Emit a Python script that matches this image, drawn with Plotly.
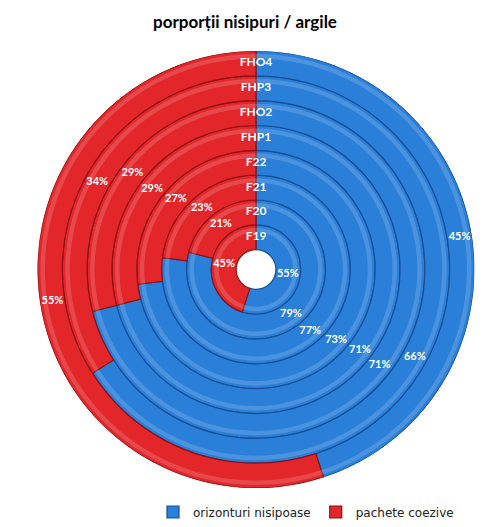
import plotly.graph_objects as go

# ---- data ----
rings = ["F19", "F20", "F21", "F22", "FHP1", "FHO2", "FHP3", "FHO4"]
sand_pct = [55, 79, 77, 73, 71, 71, 66, 45]   # orizonturi nisipoase
clay_pct = [45, 21, 23, 27, 29, 29, 34, 55]   # pachete coezive
series_names = ["orizonturi nisipoase", "pachete coezive"]
chart_title = "porporții nisipuri / argile"

# ---- styling ----
BLUE = "#2a7fd9"
RED = "#e2262a"
HOLE = 0.8
RING = 1.0
DEG = 3.6
OFF = 8  # page body offset in px

base = [HOLE + i * RING for i in range(len(rings))]
mid = [b + RING / 2 for b in base]

sand_theta = [v * DEG / 2 for v in sand_pct]
sand_width = [v * DEG for v in sand_pct]
clay_theta = [(s + c / 2) * DEG for s, c in zip(sand_pct, clay_pct)]
clay_width = [c * DEG for c in clay_pct]

fig = go.Figure()
fig.add_trace(go.Barpolar(
    r=[RING] * len(rings), base=base, theta=sand_theta, width=sand_width,
    name=series_names[0], marker=dict(color=BLUE, line=dict(color="#174f96", width=1.2)),
    hoverinfo="skip"))
fig.add_trace(go.Barpolar(
    r=[RING] * len(rings), base=base, theta=clay_theta, width=clay_width,
    name=series_names[1], marker=dict(color=RED, line=dict(color="#8e1014", width=1.2)),
    hoverinfo="skip"))

# highlight bands (bevel look)
fig.add_trace(go.Barpolar(
    r=[0.18] * len(rings), base=[b + RING - 0.3 for b in base], theta=sand_theta, width=sand_width,
    marker=dict(color="rgba(255,255,255,0.16)", line=dict(width=0)),
    showlegend=False, hoverinfo="skip"))
fig.add_trace(go.Barpolar(
    r=[0.18] * len(rings), base=[b + RING - 0.3 for b in base], theta=clay_theta, width=clay_width,
    marker=dict(color="rgba(255,255,255,0.16)", line=dict(width=0)),
    showlegend=False, hoverinfo="skip"))

txt_font = dict(family="Lato", size=11, color="white", weight="bold")
fig.add_trace(go.Scatterpolar(
    r=mid, theta=sand_theta, mode="text", text=[f"{v}%" for v in sand_pct],
    textfont=txt_font, showlegend=False, hoverinfo="skip"))
fig.add_trace(go.Scatterpolar(
    r=mid, theta=clay_theta, mode="text", text=[f"{v}%" for v in clay_pct],
    textfont=txt_font, showlegend=False, hoverinfo="skip"))
fig.add_trace(go.Scatterpolar(
    r=mid, theta=[0] * len(rings), mode="text", text=rings,
    textfont=dict(family="Lato", size=12, color="white", weight="bold"),
    showlegend=False, hoverinfo="skip"))

fig.update_layout(
    width=491, height=527,
    margin=dict(l=0, r=0, t=0, b=0),
    paper_bgcolor="white",
    title=dict(text=chart_title, x=(245 - OFF) / 491, xanchor="center",
               y=1 - (22 - OFF) / 527, yanchor="middle",
               font=dict(family="Lato", size=17, color="black", weight="bold")),
    polar=dict(
        domain=dict(x=[(37 - OFF) / 491, (475 - OFF) / 491],
                    y=[1 - (488 - OFF) / 527, 1 - (51 - OFF) / 527]),
        bgcolor="white",
        barmode="overlay",
        radialaxis=dict(range=[0, HOLE + RING * len(rings)], visible=False),
        angularaxis=dict(rotation=90, direction="clockwise", visible=False),
    ),
    legend=dict(orientation="h", x=(157 - OFF - 4) / 491, xanchor="left",
                y=1 - (512 - OFF) / 527, yanchor="middle",
                font=dict(family="DejaVu Sans", size=12, color="#222"),
                itemwidth=30, tracegroupgap=0),
)

fig.write_html("out.html")
